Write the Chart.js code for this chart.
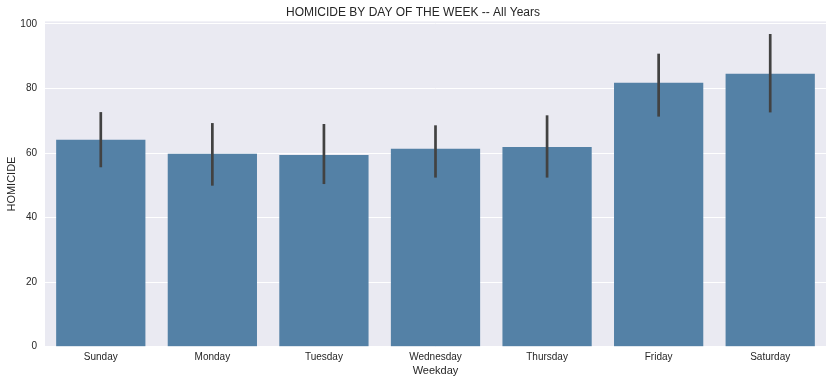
<!DOCTYPE html>
<html>
<head>
<meta charset="utf-8">
<script src="https://cdn.jsdelivr.net/npm/chart.js@4"></script>
<style>
  html, body { margin: 0; padding: 0; background: #fff; }
  #wrap { width: 833px; height: 384px; }
</style>
</head>
<body>
<div id="wrap"><canvas id="homicide-chart"></canvas></div>
<script>
const days = ["Sunday", "Monday", "Tuesday", "Wednesday", "Thursday", "Friday", "Saturday"];
const homicides = [64.1, 59.8, 59.4, 61.3, 61.9, 81.8, 84.6];
const errLow = [55.6, 49.9, 50.4, 52.4, 52.4, 71.3, 72.6];
const errHigh = [72.7, 69.3, 69.0, 68.6, 71.7, 90.8, 96.9];
const yTicks = [0, 20, 40, 60, 80, 100];

const FONT = "'Liberation Sans', Arial, sans-serif";
const TEXT = '#262626';

// grey plot background like seaborn darkgrid
const plotBg = {
  id: 'plotBg',
  beforeDraw(chart) {
    const a = chart.chartArea;
    const c = chart.ctx;
    c.save();
    c.fillStyle = '#EAEAF2';
    c.fillRect(a.left, a.top, a.right - a.left, a.bottom - a.top);
    c.restore();
  }
};

// confidence interval lines on each bar
const errorBars = {
  id: 'errorBars',
  afterDatasetsDraw(chart) {
    const meta = chart.getDatasetMeta(0);
    const y = chart.scales.y;
    const c = chart.ctx;
    c.save();
    c.strokeStyle = '#424242';
    c.lineWidth = 2.7;
    c.lineCap = 'butt';
    meta.data.forEach((bar, i) => {
      c.beginPath();
      c.moveTo(bar.x, y.getPixelForValue(errLow[i]));
      c.lineTo(bar.x, y.getPixelForValue(errHigh[i]));
      c.stroke();
    });
    c.restore();
  }
};

new Chart(document.getElementById('homicide-chart'), {
  type: 'bar',
  data: {
    labels: days,
    datasets: [{
      label: 'HOMICIDE',
      data: homicides,
      backgroundColor: '#5481a6',
      borderWidth: 0,
      barPercentage: 0.8,
      categoryPercentage: 1.0
    }]
  },
  options: {
    responsive: true,
    maintainAspectRatio: false,
    animation: false,
    layout: { padding: { left: 0, right: 7, top: 0, bottom: 0 } },
    plugins: {
      legend: { display: false },
      tooltip: { enabled: false },
      title: {
        display: true,
        text: 'HOMICIDE BY DAY OF THE WEEK -- All Years',
        color: TEXT,
        font: { family: FONT, size: 12, weight: 'normal' },
        padding: { top: 5, bottom: 2 }
      }
    },
    scales: {
      x: {
        grid: { display: false, drawTicks: false },
        border: { display: false },
        ticks: { color: TEXT, font: { family: FONT, size: 10 }, padding: 5, maxRotation: 0 },
        title: {
          display: true,
          text: 'Weekday',
          color: TEXT,
          font: { family: FONT, size: 11 },
          padding: { top: 0, bottom: 6 }
        },
        afterFit(scale) { scale.height = 37.3; }
      },
      y: {
        min: 0,
        max: 100.8,
        grid: { color: '#ffffff', lineWidth: 1, drawTicks: false },
        border: { display: false },
        ticks: { color: TEXT, font: { family: FONT, size: 10 }, padding: 8 },
        afterBuildTicks(scale) {
          scale.ticks = yTicks.map(v => ({ value: v }));
        },
        title: {
          display: true,
          text: 'HOMICIDE',
          color: TEXT,
          font: { family: FONT, size: 11 },
          padding: { top: 5, bottom: 0 }
        },
        afterFit(scale) { scale.width = 45; }
      }
    }
  },
  plugins: [plotBg, errorBars]
});
</script>
</body>
</html>
